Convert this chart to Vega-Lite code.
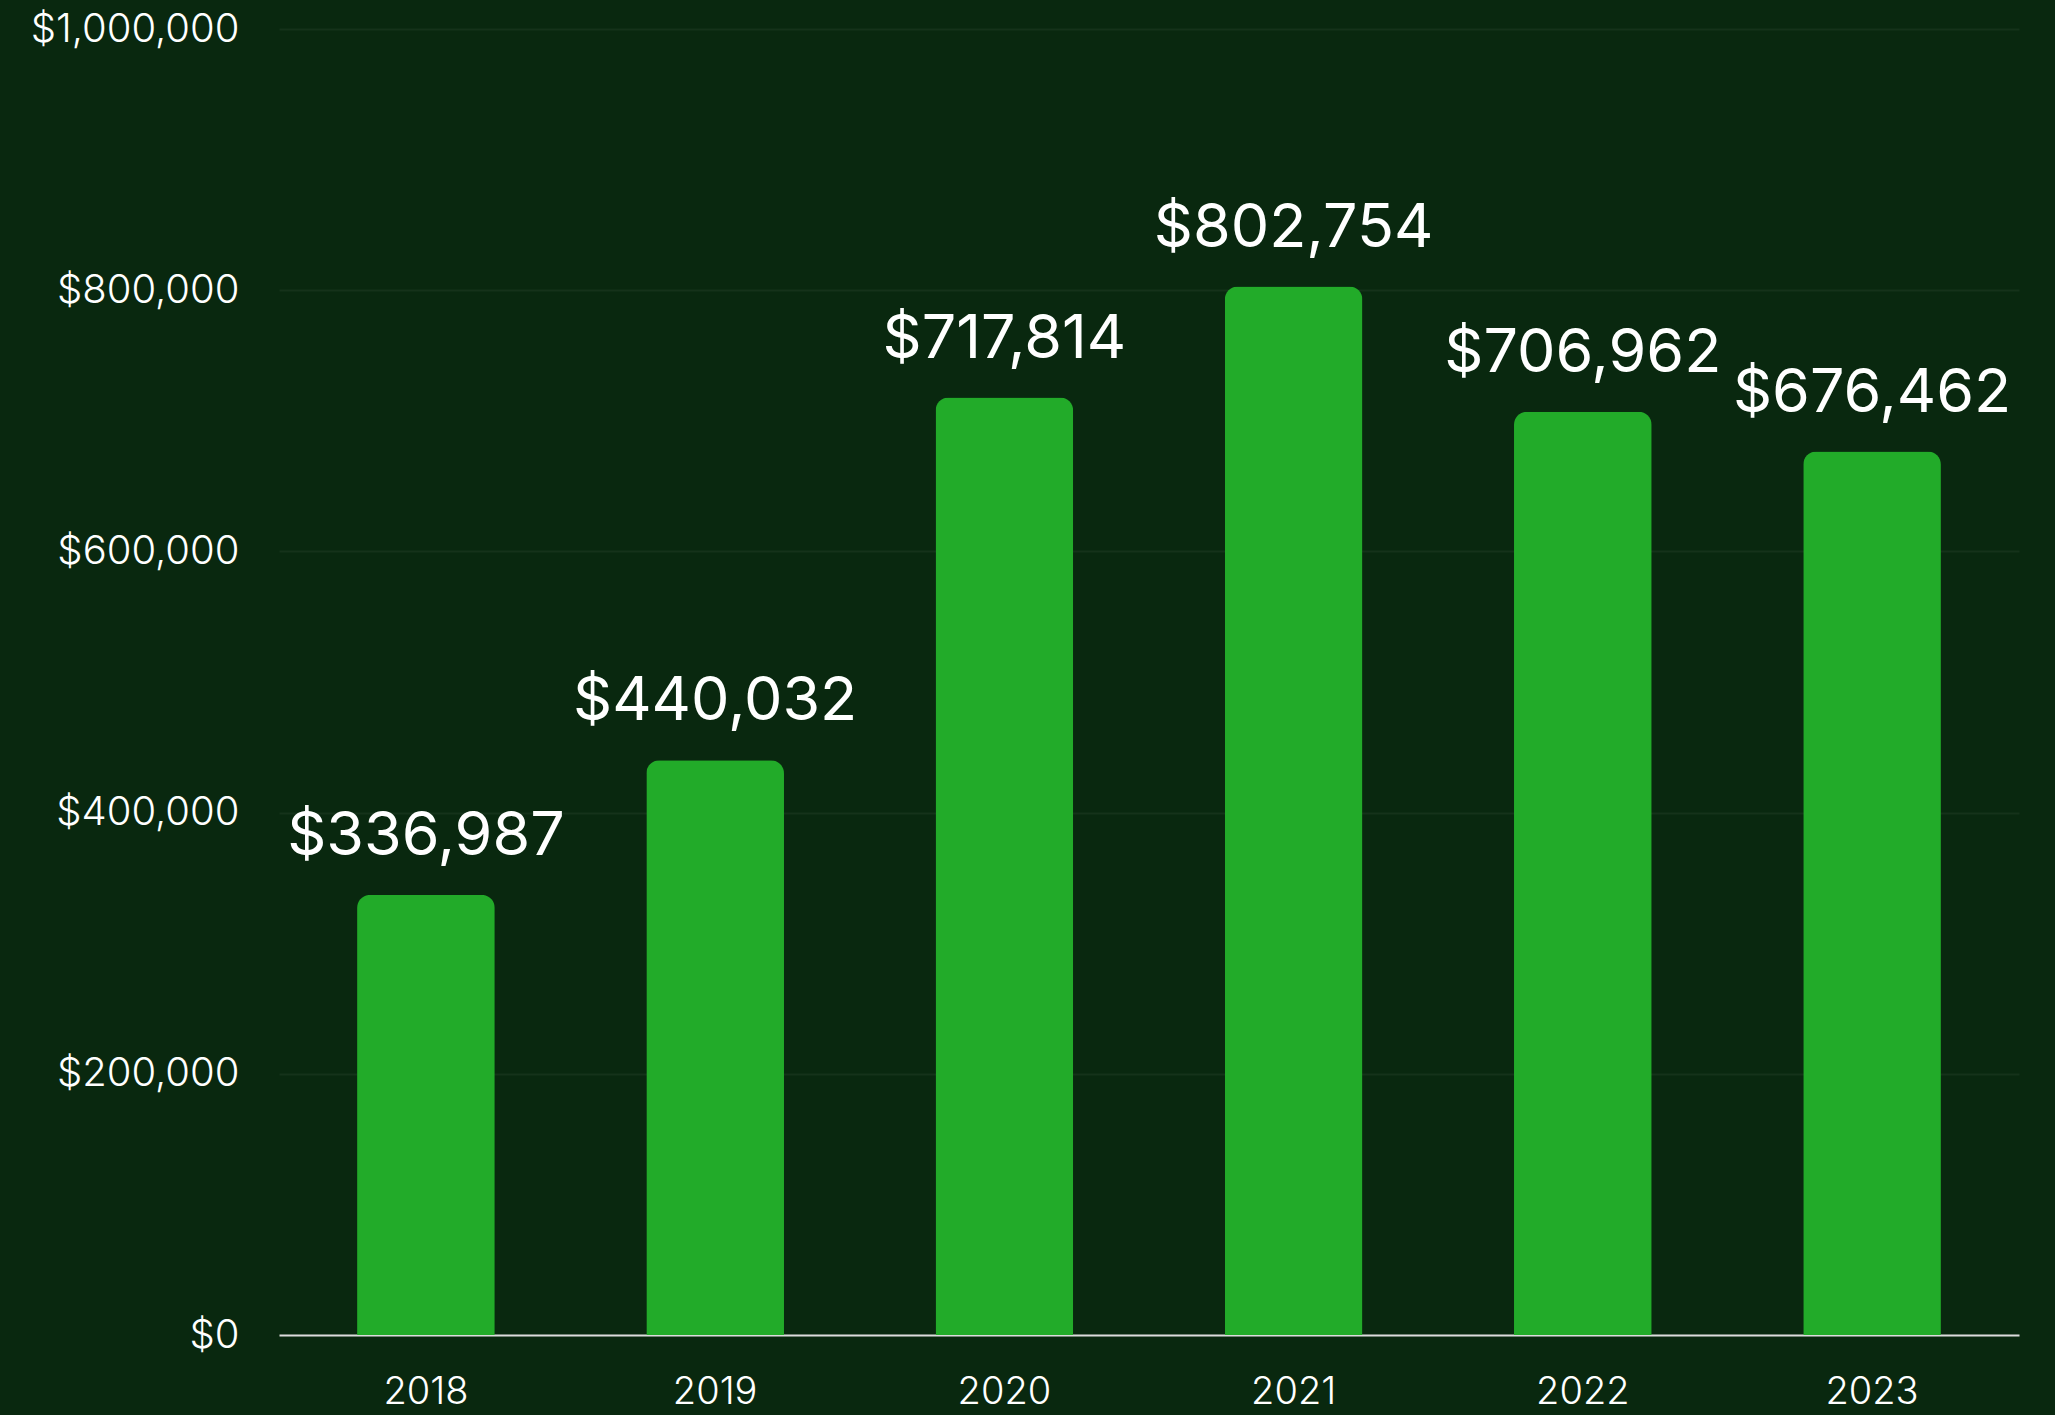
{
  "$schema": "https://vega.github.io/schema/vega-lite/v6.json",
  "autosize": {"type": "none"},
  "width": 1740,
  "height": 1306,
  "padding": {"left": 279, "top": 29, "right": 36, "bottom": 80},
  "background": "#09280f",
  "config": {
    "view": {"stroke": null},
    "font": "Inter"
  },
  "data": {
    "values": [
      {"year": "2018", "value": 336987},
      {"year": "2019", "value": 440032},
      {"year": "2020", "value": 717814},
      {"year": "2021", "value": 802754},
      {"year": "2022", "value": 706962},
      {"year": "2023", "value": 676462}
    ]
  },
  "encoding": {
    "x": {
      "field": "year",
      "type": "nominal",
      "sort": null,
      "scale": {"paddingInner": 0.524, "paddingOuter": 0.27},
      "axis": {
        "title": null,
        "labelAngle": 0,
        "labelColor": "#ffffff",
        "labelFontSize": 38,
        "labelFont": "Inter",
        "labelFontWeight": 300,
        "labelPadding": 38,
        "ticks": false,
        "domainColor": "#dcdcdc",
        "domainWidth": 2
      }
    },
    "y": {
      "field": "value",
      "type": "quantitative",
      "scale": {"domain": [0, 1000000], "nice": false},
      "axis": {
        "title": null,
        "values": [0, 200000, 400000, 600000, 800000, 1000000],
        "format": "$,.0f",
        "labelColor": "#ffffff",
        "labelFontSize": 40,
        "labelFont": "Inter",
        "labelFontWeight": 300,
        "labelPadding": 40,
        "labelLimit": 400,
        "ticks": false,
        "domain": false,
        "gridColor": "#15321a",
        "gridWidth": 2
      }
    }
  },
  "layer": [
    {
      "mark": {"type": "bar", "color": "#22ab29", "cornerRadiusTopLeft": 13, "cornerRadiusTopRight": 13}
    },
    {
      "mark": {"type": "text", "color": "#ffffff", "fontSize": 61, "font": "Inter", "fontWeight": 400, "baseline": "alphabetic", "dy": -40},
      "encoding": {
        "text": {"field": "value", "type": "quantitative", "format": "$,.0f"}
      }
    }
  ]
}
